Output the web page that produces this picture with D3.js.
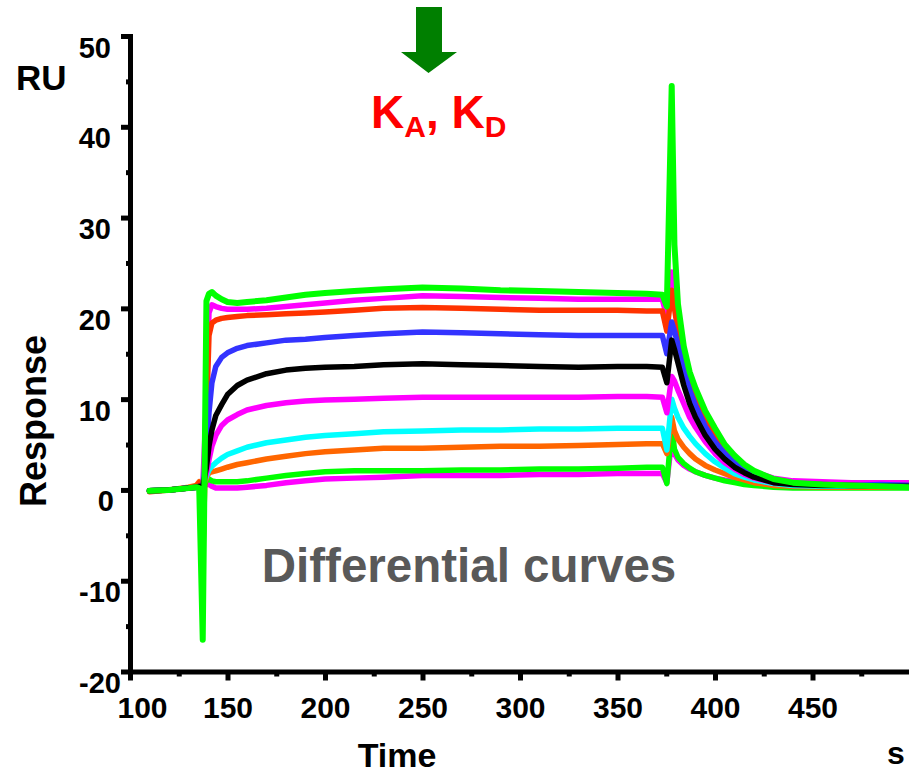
<!DOCTYPE html>
<html>
<head>
<meta charset="utf-8">
<script src="https://cdn.jsdelivr.net/npm/d3@7/dist/d3.min.js"></script>
<style>
  html, body { margin: 0; padding: 0; background: #fff; }
  svg { display: block; font-family: "Liberation Sans", Arial, Helvetica, sans-serif; font-weight: bold; }
</style>
</head>
<body>
<svg id="chart" width="909" height="774"></svg>
<script>
// Sampling times (s) shared by every sensorgram trace
const times = [110, 120, 130, 134, 135.5, 137.3, 139.2, 140.5, 142, 144, 147, 150, 155, 160, 170, 180, 190, 200, 215, 230, 250, 270, 290, 310, 330, 350, 365, 373, 375.3, 377.8, 379.2, 381, 384, 387, 390, 395, 400, 405, 410, 415, 420, 430, 440, 455, 470, 485, 500];

// Differential response (RU) for each analyte concentration
const greenHigh   = [-0.1, 0.0, 0.2, 0.3, 0.2, -16.5, 20.8, 21.6, 21.8, 21.4, 21.0, 20.7, 20.6, 20.7, 20.9, 21.2, 21.5, 21.7, 21.9, 22.1, 22.3, 22.2, 22.0, 21.9, 21.8, 21.7, 21.6, 21.5, 20.2, 44.5, 27.0, 20.5, 15.8, 13.0, 11.2, 8.7, 6.8, 5.0, 3.8, 2.8, 2.1, 1.2, 0.8, 0.6, 0.5, 0.4, 0.3];
const magentaHigh = [-0.1, 0.0, 0.2, 0.3, 0.4, 0.3, 10.0, 19.5, 20.4, 20.2, 20.0, 19.9, 19.9, 19.9, 20.0, 20.2, 20.4, 20.6, 20.9, 21.1, 21.4, 21.3, 21.2, 21.1, 21.0, 21.0, 21.0, 21.0, 19.0, 24.0, 21.0, 18.5, 15.0, 12.5, 10.6, 8.2, 6.3, 4.7, 3.5, 2.6, 2.0, 1.3, 1.0, 0.9, 0.8, 0.8, 0.8];
const red         = [-0.2, 0.0, 0.2, 0.4, 0.8, -8.0, 8.0, 17.0, 18.4, 18.7, 18.9, 19.0, 19.1, 19.2, 19.3, 19.4, 19.5, 19.6, 19.8, 20.0, 20.1, 20.0, 19.9, 19.8, 19.8, 19.8, 19.7, 19.7, 17.5, 22.0, 20.0, 17.5, 14.2, 11.8, 10.0, 7.6, 5.8, 4.3, 3.2, 2.4, 1.8, 1.1, 0.7, 0.6, 0.5, 0.5, 0.5];
const blue        = [-0.1, 0.0, 0.2, 0.3, 0.4, 0.3, 4.0, 8.5, 11.8, 13.6, 14.6, 15.1, 15.6, 15.9, 16.2, 16.5, 16.6, 16.8, 17.0, 17.2, 17.4, 17.3, 17.2, 17.1, 17.0, 17.0, 17.0, 17.0, 15.0, 18.5, 17.5, 16.0, 13.2, 11.0, 9.3, 7.0, 5.3, 4.0, 3.0, 2.2, 1.7, 1.0, 0.7, 0.6, 0.5, 0.6, 0.5];
const black       = [-0.1, 0.0, 0.2, 0.3, 0.4, 0.3, 2.5, 4.8, 6.6, 8.2, 9.4, 10.5, 11.5, 12.1, 12.8, 13.2, 13.4, 13.5, 13.6, 13.8, 13.9, 13.8, 13.7, 13.6, 13.5, 13.6, 13.6, 13.5, 11.8, 16.5, 15.5, 14.0, 11.5, 9.5, 8.0, 6.0, 4.5, 3.4, 2.5, 1.9, 1.4, 0.8, 0.6, 0.5, 0.5, 0.4, 0.4];
const magentaMid  = [-0.1, 0.0, 0.2, 0.3, 0.4, 0.3, 1.8, 3.3, 4.8, 6.0, 7.1, 7.7, 8.3, 8.8, 9.3, 9.6, 9.8, 9.9, 10.0, 10.1, 10.2, 10.2, 10.2, 10.2, 10.2, 10.3, 10.3, 10.2, 8.5, 12.5, 12.0, 11.0, 9.5, 8.0, 6.9, 5.3, 4.0, 3.0, 2.3, 1.7, 1.3, 0.8, 0.7, 0.7, 0.8, 0.8, 0.8];
const cyan        = [-0.1, 0.0, 0.2, 0.3, 0.4, 0.3, 1.5, 2.2, 2.6, 3.0, 3.5, 3.9, 4.3, 4.7, 5.2, 5.5, 5.8, 6.0, 6.2, 6.4, 6.5, 6.6, 6.6, 6.7, 6.7, 6.8, 6.8, 6.8, 4.4, 10.0, 9.0, 8.0, 6.8, 5.9, 5.1, 4.0, 3.1, 2.4, 1.8, 1.4, 1.1, 0.7, 0.5, 0.4, 0.4, 0.4, 0.4];
const orange      = [-0.1, 0.0, 0.3, 0.5, 0.9, 0.3, 1.3, 1.9, 2.0, 2.1, 2.3, 2.5, 2.8, 3.0, 3.4, 3.7, 4.0, 4.2, 4.4, 4.6, 4.6, 4.7, 4.8, 4.8, 4.9, 5.0, 5.1, 5.1, 4.0, 8.0, 6.5, 5.6, 4.7, 4.0, 3.4, 2.7, 2.2, 1.8, 1.4, 1.1, 0.8, 0.5, 0.4, 0.3, 0.3, 0.3, 0.3];
const greenLow    = [-0.1, 0.0, 0.2, 0.3, 0.4, 0.3, 1.0, 1.2, 1.0, 0.9, 0.9, 0.9, 0.9, 1.0, 1.3, 1.6, 1.8, 2.0, 2.1, 2.1, 2.1, 2.2, 2.2, 2.3, 2.3, 2.4, 2.5, 2.5, 0.7, 7.0, 4.5, 3.6, 2.9, 2.4, 2.0, 1.6, 1.3, 1.0, 0.8, 0.6, 0.5, 0.3, 0.2, 0.2, 0.2, 0.2, 0.2];
const magentaLow  = [-0.1, 0.0, 0.2, 0.3, 0.4, 0.3, 0.6, 0.6, 0.4, 0.2, 0.2, 0.2, 0.2, 0.3, 0.5, 0.8, 1.0, 1.2, 1.3, 1.4, 1.6, 1.6, 1.6, 1.7, 1.7, 1.8, 1.8, 1.8, 0.8, 5.5, 4.0, 3.3, 2.7, 2.3, 2.0, 1.6, 1.3, 1.1, 1.0, 0.9, 0.8, 0.8, 0.8, 0.8, 0.8, 0.7, 0.7];

// Axis ticks
const xMajor = [100, 150, 200, 250, 300, 350, 400, 450];
const xMinor = [125, 175, 225, 275, 325, 375, 425, 475];
const yMajor = [50, 40, 30, 20, 10, 0, -10, -20];
const yMinor = [45, 35, 25, 15, 5, -5, -15];

// Traces in drawing order (last one on top)
const traces = [
  { values: magentaLow,  color: "#ff00ff" },
  { values: greenLow,    color: "#00ff00" },
  { values: orange,      color: "#ff6600" },
  { values: cyan,        color: "#00ffff" },
  { values: magentaMid,  color: "#ff00ff" },
  { values: magentaHigh, color: "#ff00ff" },
  { values: red,         color: "#ff3300" },
  { values: blue,        color: "#3333ff" },
  { values: black,       color: "#000000" },
  { values: greenHigh,   color: "#00ff00", width: 6 }
];

const svg = d3.select("#chart");

const x = d3.scaleLinear().domain([100, 500]).range([130, 910]);
const y = d3.scaleLinear().domain([-20, 50]).range([671.5, 36]);

// Curves
const line = d3.line()
  .x((d, i) => x(times[i]))
  .y(d => y(d));

svg.append("g").attr("class", "traces")
  .selectAll("path")
  .data(traces)
  .join("path")
  .attr("d", d => line(d.values))
  .attr("fill", "none")
  .attr("stroke", d => d.color)
  .attr("stroke-width", d => d.width || 5.5)
  .attr("stroke-linejoin", "round")
  .attr("stroke-linecap", "round");

// Plain hyphen for negative tick labels
const plain = d => String(d);

// Y axis: minor ticks, then major ticks with labels
const yMinorAxis = svg.append("g").attr("transform", "translate(130,0)")
  .call(d3.axisLeft(y).tickValues(yMinor).tickSize(4).tickSizeOuter(0).tickFormat(""));
yMinorAxis.select(".domain").remove();

const yAxis = svg.append("g").attr("transform", "translate(130,0)")
  .call(d3.axisLeft(y).tickValues(yMajor).tickSize(9).tickSizeOuter(0).tickPadding(19).tickFormat(plain));
yAxis.select(".domain").attr("stroke-width", 5).attr("stroke-linecap", "square");
yAxis.selectAll(".tick text")
  .attr("font-size", 29)
  .attr("font-family", "Liberation Sans, Arial, sans-serif")
  .attr("font-weight", "bold")
  .attr("fill", "#000")
  .attr("dy", null)
  .attr("y", 21)
  .attr("x", d => -19 + (d < 0 ? 10 : d === 0 ? 3 : 0));

// X axis
const xAxisG = svg.append("g").attr("transform", "translate(0,671.5)");
const xMinorAxis = xAxisG.append("g")
  .call(d3.axisBottom(x).tickValues(xMinor).tickSize(5).tickSizeOuter(0).tickFormat(""));
xMinorAxis.select(".domain").remove();

const xAxis = xAxisG.append("g")
  .call(d3.axisBottom(x).tickValues(xMajor).tickSize(9).tickSizeOuter(0).tickPadding(17).tickFormat(plain));
xAxis.select(".domain").attr("stroke-width", 5).attr("stroke-linecap", "square");
xAxis.selectAll(".tick text")
  .attr("font-size", 30)
  .attr("font-family", "Liberation Sans, Arial, sans-serif")
  .attr("font-weight", "bold")
  .attr("fill", "#000")
  .attr("dy", null)
  .attr("y", 46)
  .attr("x", d => d === 100 ? 12 : 0);

svg.selectAll(".tick line").attr("stroke", "#000").attr("stroke-width", 5);

// Axis titles and units
svg.append("text").attr("x", 16).attr("y", 90)
  .attr("font-size", 35).text("RU");

svg.append("text")
  .attr("transform", "translate(46,421) rotate(-90)")
  .attr("text-anchor", "middle")
  .attr("font-size", 36).text("Response");

svg.append("text").attr("x", 397).attr("y", 767)
  .attr("text-anchor", "middle")
  .attr("font-size", 34).text("Time");

svg.append("text").attr("x", 887).attr("y", 764)
  .attr("font-size", 32).text("s");

// Annotation
svg.append("text").attr("x", 469).attr("y", 582)
  .attr("text-anchor", "middle")
  .attr("font-size", 47.5)
  .attr("fill", "#595959").text("Differential curves");

const k = svg.append("text").attr("x", 371).attr("y", 128)
  .attr("fill", "#ff0000").attr("font-size", 46);
k.append("tspan").text("K");
k.append("tspan").attr("font-size", 30).attr("dy", 9).text("A");
k.append("tspan").attr("dy", -9).text(", K");
k.append("tspan").attr("font-size", 30).attr("dy", 9).text("D");

// Downward arrow marking the rate constants
svg.append("path")
  .attr("d", "M416,7 L442,7 L442,52 L457,52 L428.5,73 L401,52 L416,52 Z")
  .attr("fill", "#007f00");
</script>
</body>
</html>
